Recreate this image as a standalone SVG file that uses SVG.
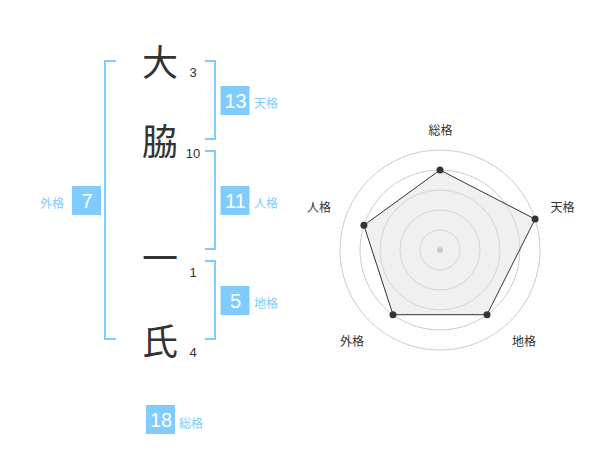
<svg xmlns="http://www.w3.org/2000/svg" width="600" height="470" viewBox="0 0 600 470">
<style>
.kanji{font-family:"Noto Sans CJK JP","Noto Sans CJK SC",sans-serif;font-size:36px;fill:#333;text-anchor:middle}
.stroke{font-family:"Liberation Sans",Arial,sans-serif;font-size:13px;fill:#333;text-anchor:middle}
.br{fill:none;stroke:#80ccff;stroke-width:2}
.box{fill:#80ccff}
.num{font-family:"Liberation Sans",Arial,sans-serif;font-size:20px;fill:#fff;text-anchor:middle}
.lbl{font-family:"Noto Sans CJK JP","Noto Sans CJK SC",sans-serif;font-size:12px;fill:#80ccff}
.rlbl{font-family:"Noto Sans CJK JP","Noto Sans CJK SC",sans-serif;font-size:12px;fill:#333;text-anchor:middle}
.ring{fill:none;stroke:#ccc;stroke-width:1}
</style>
<rect width="600" height="470" fill="#fff"/>
<g id="name">
<text class="kanji" x="160" y="76">大</text>
<text class="kanji" x="160" y="155">脇</text>
<text class="kanji" x="160" y="272">一</text>
<text class="kanji" x="160" y="355">氏</text>
<text class="stroke" x="193" y="77">3</text>
<text class="stroke" x="193" y="158">10</text>
<text class="stroke" x="193" y="277">1</text>
<text class="stroke" x="193" y="357">4</text>
</g>
<g id="connectors">
<path class="br" d="M116,61 H105 V339 H116"/>
<path class="br" d="M205,61 H215 V139 H205"/>
<path class="br" d="M205,151 H215 V249 H205"/>
<path class="br" d="M205,261 H215 V339 H205"/>
</g>
<g id="tenkaku">
<rect class="box" x="220.5" y="86" width="29" height="29"/>
<text class="num" x="235.5" y="108">13</text>
<text class="lbl" x="254" y="108">天格</text>
</g>
<g id="jinkaku">
<rect class="box" x="220.5" y="186" width="29" height="29"/>
<text class="num" x="235.5" y="208">11</text>
<text class="lbl" x="254" y="208">人格</text>
</g>
<g id="chikaku">
<rect class="box" x="220.5" y="286" width="29" height="29"/>
<text class="num" x="235.5" y="308">5</text>
<text class="lbl" x="254" y="308">地格</text>
</g>
<g id="gaikaku">
<rect class="box" x="72" y="186" width="29" height="29"/>
<text class="num" x="87" y="208">7</text>
<text class="lbl" x="40" y="208">外格</text>
</g>
<g id="soukaku">
<rect class="box" x="146" y="405" width="29" height="29"/>
<text class="num" x="161" y="427">18</text>
<text class="lbl" x="179" y="428">総格</text>
</g>
<g id="radar">
<circle class="ring" cx="440" cy="250" r="100"/>
<circle class="ring" cx="440" cy="250" r="80"/>
<circle class="ring" cx="440" cy="250" r="60"/>
<circle class="ring" cx="440" cy="250" r="40"/>
<circle class="ring" cx="440" cy="250" r="20"/>
<polygon points="440,170 535.1,219.1 487,314.7 393,314.7 363.9,225.3" fill="#ddd" fill-opacity="0.45" stroke="#333" stroke-width="1"/>
<circle cx="440" cy="250" r="3" fill="#ccc"/>
<g fill="#333">
<circle cx="440" cy="170" r="3.5"/>
<circle cx="535.1" cy="219.1" r="3.5"/>
<circle cx="487" cy="314.7" r="3.5"/>
<circle cx="393" cy="314.7" r="3.5"/>
<circle cx="363.9" cy="225.3" r="3.5"/>
</g>
<text class="rlbl" x="440.5" y="135">総格</text>
<text class="rlbl" x="562.5" y="212">天格</text>
<text class="rlbl" x="319" y="212">人格</text>
<text class="rlbl" x="352" y="346">外格</text>
<text class="rlbl" x="524" y="346">地格</text>
</g>
</svg>
